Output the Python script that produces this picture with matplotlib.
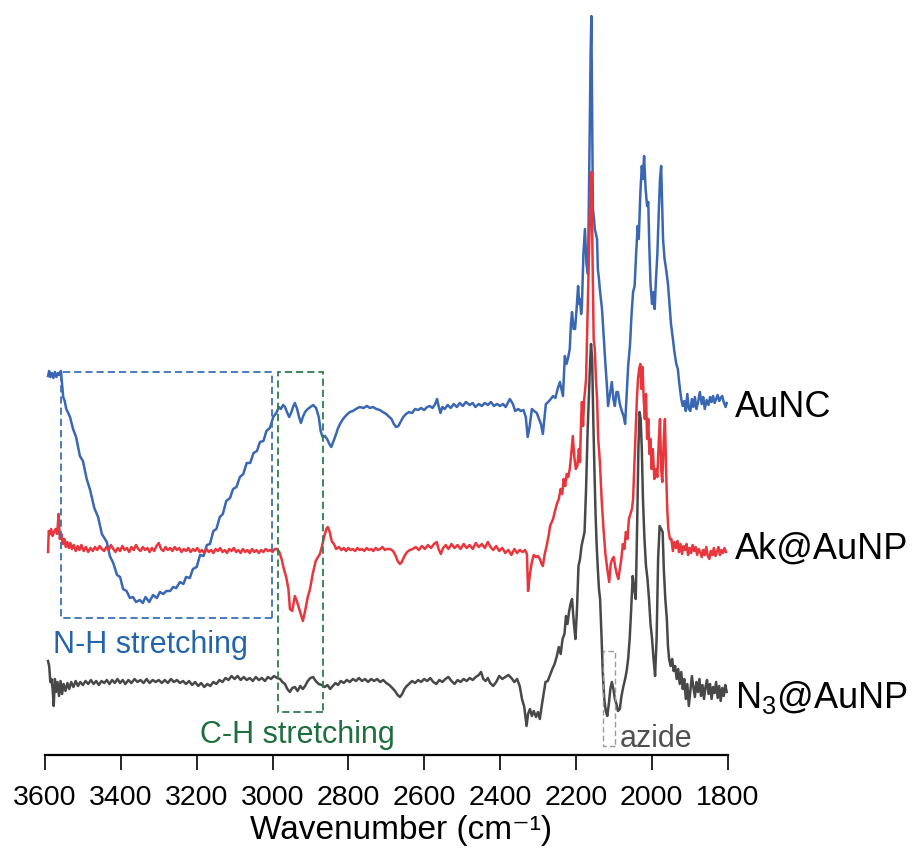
import numpy as np
import matplotlib
matplotlib.use("Agg")
import matplotlib.pyplot as plt
from matplotlib.patches import Rectangle

# Stacked FTIR spectra: wavenumber (cm-1), offset intensity (a.u.)
aunc = np.array([
    (3592,378),(3589,383),(3586,377),(3582,381),(3578,376),(3574,382),(3570,377),(3566,381),
    (3562,379),(3558,383),(3555,370),(3552,357),(3548,353),(3544,345),(3540,342),(3534,337),
    (3526,325),(3518,317),(3508,298),(3500,293),(3490,275),(3481,264),(3470,246),(3460,237),
    (3450,220),(3437,212),(3429,198),(3420,191),(3410,179),(3402,177),(3394,165),(3385,163),
    (3376,156),(3368,157),(3360,152),(3350,154),(3342,151),(3335,157),(3325,152),(3315,159),
    (3305,156),(3297,162),(3288,160),(3280,163),(3270,163),(3262,167),(3254,166),(3244,172),
    (3235,170),(3228,177),(3218,176),(3210,185),(3200,187),(3191,199),(3182,198),(3173,209),
    (3165,210),(3156,223),(3148,225),(3139,237),(3131,240),(3122,253),(3112,256),(3104,265),
    (3095,267),(3086,277),(3077,280),(3068,291),(3059,291),(3050,301),(3041,303),(3033,312),
    (3024,313),(3016,323),(3007,326),(2998,337),(2990,341),(2983,347),(2978,345),(2972,349),
    (2967,347),(2962,342),(2956,337),(2950,342),(2946,347),(2941,351),(2935,345),(2930,337),
    (2925,331),(2920,337),(2914,342),(2907,345),(2900,347),(2893,349),(2885,346),(2878,337),
    (2873,323),(2868,317),(2862,318),(2856,315),(2850,310),(2845,307),(2840,312),(2834,318),
    (2828,325),(2822,330),(2814,335),(2805,339),(2796,342),(2788,343),(2780,345),(2770,347),
    (2760,346),(2751,348),(2743,346),(2735,347),(2726,345),(2717,344),(2709,342),(2700,340),
    (2692,337),(2686,335),(2680,330),(2674,327),(2668,328),(2661,333),(2655,337),(2648,340),
    (2640,342),(2632,341),(2624,345),(2616,344),(2608,346),(2600,344),(2592,347),(2585,348),
    (2578,346),(2571,350),(2566,355),(2562,348),(2557,341),(2552,347),(2546,345),(2538,349),
    (2530,346),(2522,350),(2514,347),(2506,351),(2498,348),(2490,352),(2480,349),(2472,351),
    (2465,347),(2456,350),(2448,348),(2440,351),(2432,349),(2424,352),(2416,348),(2408,350),
    (2400,348),(2392,350),(2385,347),(2374,355),(2366,350),(2360,343),(2352,345),(2345,343),
    (2338,344),(2332,337),(2327,317),(2322,327),(2316,345),(2310,343),(2303,341),(2297,335),
    (2292,330),(2287,320),(2283,335),(2279,350),(2273,352),(2266,355),(2260,358),(2254,356),
    (2248,365),(2242,372),(2238,365),(2234,358),(2229,398),(2225,390),(2221,395),(2216,405),
    (2213,430),(2210,442),(2206,425),(2202,425),(2198,445),(2194,468),(2191,450),(2189,455),
    (2186,440),(2184,448),(2180,500),(2176,525),(2172,490),(2168,480),(2166,540),(2163,635),
    (2161,700),(2159,738),(2157,640),(2155,545),(2152,535),(2150,525),(2147,520),(2144,515),
    (2142,485),(2139,475),(2136,462),(2131,445),(2127,420),(2122,390),(2118,368),(2115,348),
    (2110,360),(2105,372),(2101,355),(2097,348),(2093,362),(2089,362),(2084,350),(2078,342),
    (2074,338),(2070,330),(2066,360),(2062,388),(2057,410),(2053,440),(2049,462),(2045,468),
    (2041,500),(2037,528),(2034,515),(2030,560),(2026,588),(2023,575),(2020,598),(2016,565),
    (2012,548),(2009,552),(2006,505),(2003,470),(1999,450),(1995,462),(1992,445),(1989,472),
    (1985,500),(1981,545),(1978,575),(1975,588),(1972,545),(1970,515),(1966,495),(1962,485),
    (1957,470),(1953,450),(1949,430),(1944,415),(1940,402),(1935,390),(1931,385),(1927,370),
    (1922,355),(1918,348),(1914,353),(1910,343),(1906,360),(1902,345),(1898,343),(1894,355),
    (1890,347),(1886,357),(1882,345),(1878,351),(1873,362),(1868,350),(1864,357),(1860,345),
    (1855,354),(1850,349),(1846,357),(1842,352),(1838,358),(1834,351),(1830,355),(1826,359),
    (1822,353),(1818,356),(1814,358),(1810,352),(1805,347),(1802,351),
])

ak_aunp = np.array([
    (3592,202),(3590,223),(3587,220),(3584,225),(3580,218),(3576,222),(3572,225),(3568,220),
    (3564,240),(3561,215),(3557,220),(3553,210),(3549,215),(3545,207),(3541,212),(3537,206),
    (3533,211),(3529,205),(3524,209),(3519,203),(3514,208),(3509,204),(3504,209),(3498,203),
    (3492,207),(3486,202),(3480,206),(3474,203),(3468,207),(3462,204),(3456,208),(3450,205),
    (3444,203),(3438,207),(3432,204),(3426,209),(3420,205),(3414,202),(3408,206),(3402,203),
    (3396,208),(3390,204),(3384,206),(3378,202),(3372,207),(3366,204),(3360,209),(3354,205),
    (3348,203),(3342,207),(3336,204),(3330,206),(3324,202),(3318,206),(3312,203),(3306,208),
    (3300,211),(3294,205),(3288,203),(3282,207),(3276,204),(3270,206),(3264,203),(3258,207),
    (3252,204),(3246,206),(3240,202),(3234,205),(3228,203),(3222,206),(3216,202),(3210,205),
    (3204,203),(3198,206),(3192,202),(3186,204),(3180,201),(3174,205),(3168,202),(3162,204),
    (3156,201),(3150,205),(3144,203),(3138,206),(3132,202),(3126,204),(3120,201),(3114,205),
    (3108,203),(3102,206),(3096,202),(3090,204),(3084,201),(3078,205),(3072,202),(3066,204),
    (3060,201),(3054,205),(3048,202),(3042,204),(3036,201),(3030,204),(3024,202),(3018,205),
    (3012,203),(3006,204),(3000,202),(2994,205),(2988,205),(2982,202),(2976,195),(2970,185),
    (2964,177),(2958,165),(2954,145),(2948,143),(2941,158),(2935,152),(2928,143),(2920,133),
    (2914,143),(2907,157),(2901,165),(2894,180),(2886,193),(2880,197),(2875,200),(2870,207),
    (2864,217),(2858,225),(2854,227),(2849,222),(2844,213),(2838,210),(2832,205),(2825,207),
    (2818,204),(2812,206),(2806,203),(2800,206),(2794,204),(2788,205),(2782,203),(2776,206),
    (2770,204),(2764,205),(2758,203),(2752,206),(2746,204),(2740,205),(2734,203),(2728,206),
    (2722,204),(2716,205),(2710,207),(2704,204),(2698,205),(2690,205),(2682,203),(2676,199),
    (2670,193),(2664,190),(2659,192),(2652,198),(2645,202),(2638,204),(2630,205),(2622,207),
    (2614,204),(2606,208),(2598,205),(2590,209),(2582,206),(2574,210),(2567,212),(2562,205),
    (2556,200),(2550,206),(2543,209),(2536,205),(2528,210),(2520,206),(2512,209),(2504,205),
    (2496,210),(2488,206),(2480,209),(2472,205),(2464,211),(2456,207),(2448,210),(2440,206),
    (2432,212),(2425,207),(2418,204),(2410,208),(2402,203),(2394,206),(2386,201),(2378,204),
    (2370,199),(2362,205),(2355,201),(2348,204),(2340,202),(2334,204),(2329,200),(2326,163),
    (2321,180),(2316,192),(2311,199),(2305,197),(2300,198),(2295,195),(2290,190),(2287,188),
    (2282,200),(2277,208),(2271,220),(2268,228),(2260,235),(2255,243),(2250,250),(2245,255),
    (2240,265),(2236,260),(2232,275),(2228,268),(2224,280),(2220,277),(2216,285),(2212,300),
    (2208,318),(2204,297),(2200,285),(2196,288),(2192,305),(2189,292),(2186,335),(2184,352),
    (2181,328),(2178,355),(2176,362),(2173,375),(2170,425),(2168,462),(2165,505),(2162,555),
    (2159,582),(2156,495),(2153,415),(2150,405),(2147,375),(2144,355),(2141,315),(2138,300),
    (2136,288),(2132,255),(2127,225),(2122,200),(2117,185),(2112,172),(2108,190),(2104,195),
    (2100,197),(2096,187),(2092,180),(2088,175),(2084,185),(2080,195),(2076,210),(2072,205),
    (2068,222),(2064,215),(2060,235),(2056,240),(2052,245),(2049,255),(2046,285),(2043,315),
    (2039,355),(2036,375),(2033,385),(2030,390),(2027,365),(2024,387),(2021,355),(2018,335),
    (2015,360),(2012,315),(2009,335),(2006,300),(2003,315),(2000,285),(1997,305),(1993,275),
    (1989,285),(1985,277),(1981,315),(1978,335),(1975,285),(1972,272),(1968,315),(1965,335),
    (1962,285),(1959,245),(1956,225),(1952,215),(1948,215),(1944,203),(1940,212),(1936,206),
    (1932,213),(1928,202),(1924,210),(1920,200),(1916,208),(1912,204),(1908,210),(1904,199),
    (1900,206),(1896,201),(1892,209),(1888,203),(1884,207),(1880,199),(1876,205),(1872,202),
    (1868,197),(1864,204),(1860,199),(1856,207),(1852,198),(1848,195),(1844,203),(1840,199),
    (1836,206),(1832,198),(1828,202),(1824,207),(1820,199),(1816,204),(1812,201),(1808,206),
    (1804,202),
])

n3_aunp = np.array([
    (3592,93),(3589,88),(3586,72),(3583,75),(3580,65),(3577,48),(3574,75),(3571,62),
    (3567,72),(3563,58),(3559,73),(3555,60),(3551,70),(3546,63),(3541,71),(3536,65),
    (3531,72),(3525,67),(3519,73),(3513,68),(3507,72),(3500,69),(3493,73),(3486,70),
    (3479,74),(3472,70),(3465,73),(3458,69),(3451,73),(3444,71),(3437,74),(3430,70),
    (3423,74),(3416,71),(3409,75),(3402,71),(3395,74),(3388,70),(3380,74),(3372,71),
    (3364,75),(3356,72),(3348,74),(3340,71),(3332,75),(3324,71),(3316,74),(3308,72),
    (3300,74),(3292,71),(3284,74),(3276,71),(3268,75),(3260,72),(3252,74),(3244,71),
    (3236,73),(3228,70),(3220,73),(3212,69),(3204,72),(3196,68),(3188,71),(3180,67),
    (3172,70),(3164,68),(3156,72),(3148,70),(3140,74),(3132,72),(3124,76),(3116,74),
    (3108,78),(3100,75),(3092,78),(3084,74),(3076,77),(3068,74),(3060,76),(3052,73),
    (3044,77),(3036,74),(3028,76),(3020,73),(3012,77),(3004,75),(2996,78),(2988,76),
    (2980,75),(2974,72),(2967,70),(2961,65),(2954,62),(2948,66),(2941,67),(2934,63),
    (2927,68),(2920,65),(2914,68),(2907,73),(2900,76),(2893,77),(2886,73),(2878,70),
    (2870,69),(2862,67),(2855,69),(2848,65),(2841,68),(2834,71),(2827,69),(2820,73),
    (2812,71),(2804,74),(2796,72),(2788,75),(2780,73),(2772,76),(2764,73),(2756,75),
    (2748,72),(2740,75),(2732,73),(2724,75),(2716,72),(2708,74),(2700,71),(2692,69),
    (2684,66),(2677,63),(2670,59),(2664,57),(2658,60),(2652,65),(2646,68),(2640,70),
    (2632,73),(2624,71),(2616,74),(2608,72),(2600,75),(2592,73),(2584,76),(2576,72),
    (2568,70),(2560,74),(2552,72),(2544,75),(2536,77),(2528,73),(2520,70),(2512,74),
    (2504,72),(2496,75),(2488,73),(2480,76),(2472,74),(2464,77),(2456,79),(2450,82),
    (2444,75),(2438,73),(2432,76),(2426,71),(2418,68),(2410,72),(2402,78),(2394,75),
    (2386,77),(2378,79),(2370,76),(2362,72),(2355,75),(2348,68),(2342,55),(2336,47),
    (2330,28),(2326,40),(2321,45),(2316,38),(2311,43),(2305,37),(2300,42),(2295,35),
    (2290,48),(2285,60),(2280,72),(2274,73),(2268,79),(2262,85),(2256,90),(2250,98),
    (2245,107),(2240,100),(2235,115),(2230,120),(2226,138),(2222,130),(2218,142),(2214,150),
    (2210,155),(2205,130),(2201,115),(2197,145),(2193,188),(2189,195),(2185,208),(2181,215),
    (2177,222),(2173,265),(2169,322),(2166,355),(2163,385),(2160,410),(2157,395),(2154,335),
    (2151,285),(2148,240),(2145,208),(2142,185),(2139,165),(2136,155),(2132,115),(2129,82),
    (2125,55),(2121,43),(2117,38),(2113,50),(2109,65),(2105,72),(2101,65),(2097,55),
    (2093,50),(2089,43),(2084,45),(2080,57),(2075,67),(2070,75),(2066,83),(2062,95),
    (2058,115),(2054,145),(2050,178),(2046,165),(2042,155),(2038,235),(2035,305),(2032,342),
    (2029,335),(2026,305),(2023,255),(2019,215),(2015,188),(2011,175),(2007,155),(2003,130),
    (1999,115),(1995,95),(1991,78),(1987,115),(1983,195),(1979,228),(1975,225),(1971,222),
    (1968,185),(1964,155),(1960,135),(1957,108),(1954,95),(1950,88),(1946,95),(1942,83),
    (1938,88),(1934,75),(1930,85),(1926,70),(1922,82),(1918,65),(1914,75),(1910,55),
    (1906,70),(1902,48),(1898,63),(1894,78),(1890,67),(1886,57),(1882,72),(1878,62),
    (1874,75),(1870,58),(1866,69),(1862,55),(1858,67),(1854,74),(1850,60),(1846,70),
    (1842,55),(1838,67),(1834,61),(1830,72),(1826,56),(1822,68),(1818,53),(1814,66),
    (1810,58),(1806,69),(1802,62),
])

series_names = ["AuNC", "Ak@AuNP", r"N$_{\mathregular{3}}$@AuNP"]
series_colors = ["#3a67b4", "#e8363c", "#484848"]
label_anchor = [(1780, 338), (1780, 196), (1780, 47)]

tick_values = [3600, 3400, 3200, 3000, 2800, 2600, 2400, 2200, 2000, 1800]

# Highlighted regions: (wn_left, wn_right, y_bottom, y_top)
nh_box = (3558, 3001, 136, 382)
ch_box = (2986, 2867, 42, 382)
azide_box = (2129, 2097, 8, 103)

plt.rcParams["font.family"] = ["Liberation Sans", "DejaVu Sans"]
plt.rcParams["mathtext.fontset"] = "custom"
plt.rcParams["mathtext.rm"] = "Liberation Sans"

W, H = 916, 854
fig = plt.figure(figsize=(W / 100, H / 100), dpi=100)
ax = fig.add_axes([45 / W, 98 / H, 682.5 / W, 756 / H])

for data, color, z in zip([aunc, ak_aunp, n3_aunp], series_colors, [2, 3, 4]):
    ax.plot(data[:, 0], data[:, 1], color=color, lw=1.8, zorder=z,
            solid_joinstyle="round", clip_on=False)

for name, color, (xa, ya) in zip(series_names, series_colors, label_anchor):
    ax.text(xa, ya, name, fontsize=26, color="black", ha="left", va="baseline",
            clip_on=False)

def dashed_box(box, color, lw, dashes):
    x0, x1, y0, y1 = box
    rect = Rectangle((min(x0, x1), y0), abs(x1 - x0), y1 - y0, fill=False,
                     edgecolor=color, lw=lw, linestyle=(0, dashes), zorder=5)
    ax.add_patch(rect)

dashed_box(nh_box, "#3a72b8", 1.3, (4, 2.2))
dashed_box(ch_box, "#2e7d4c", 1.3, (4, 2.2))
dashed_box(azide_box, "#9a9a9a", 1.0, (4, 2.2))

ax.text(3580, 102, "N-H stretching", fontsize=22, color="#2264ae", ha="left",
        va="baseline")
ax.text(3192, 12, "C-H stretching", fontsize=22, color="#1d6e3d", ha="left",
        va="baseline", clip_on=False)
ax.text(2083, 8, "azide", fontsize=22, color="#505050", ha="left",
        va="baseline", clip_on=False)

ax.set_xlim(3600, 1800)
ax.set_ylim(-1, 755)
for side in ["left", "right", "top"]:
    ax.spines[side].set_visible(False)
ax.spines["bottom"].set_linewidth(1.6)
ax.set_yticks([])
ax.set_xticks(tick_values)
ax.set_xticklabels([str(t) for t in tick_values], fontsize=20.5)
ax.tick_params(axis="x", direction="out", length=11, width=1.2, pad=10,
               colors="black")
ax.set_xlabel("Wavenumber (cm\u207b\u00b9)", fontsize=24)
ax.xaxis.set_label_coords((401 - 45) / 682.5, (756 - 815) / 756)

fig.savefig("out.png", dpi=100)
